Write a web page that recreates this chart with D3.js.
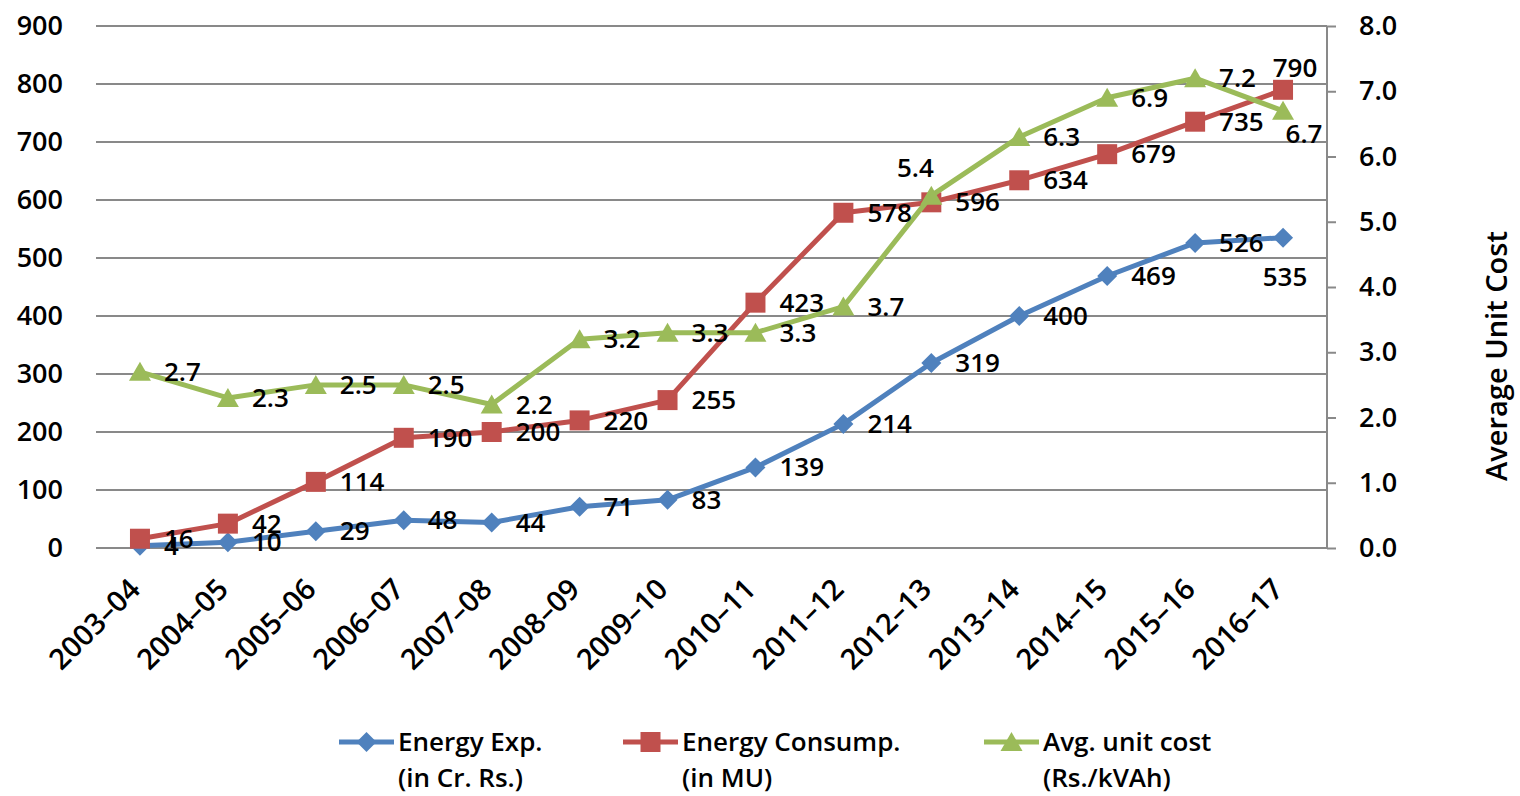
<!DOCTYPE html>
<html>
<head>
<meta charset="utf-8">
<script src="https://d3js.org/d3.v7.min.js"></script>
<style>
  html, body { margin: 0; padding: 0; background: #fff; }
  svg { display: block; font-family: "Open Sans", sans-serif; font-weight: 600; }
</style>
</head>
<body>
<svg id="chart" width="1520" height="796"></svg>
<script>
// Financial years
const years = ["2003–04","2004–05","2005–06","2006–07","2007–08","2008–09","2009–10",
               "2010–11","2011–12","2012–13","2013–14","2014–15","2015–16","2016–17"];

// Energy expenditure (in Cr. Rs.)
const energyExp = [4, 10, 29, 48, 44, 71, 83, 139, 214, 319, 400, 469, 526, 535];
// Energy consumption (in MU)
const energyConsump = [16, 42, 114, 190, 200, 220, 255, 423, 578, 596, 634, 679, 735, 790];
// Average unit cost (Rs./kVAh)
const avgUnitCost = [2.7, 2.3, 2.5, 2.5, 2.2, 3.2, 3.3, 3.3, 3.7, 5.4, 6.3, 6.9, 7.2, 6.7];

// Axis ticks
const leftTicks = [0, 100, 200, 300, 400, 500, 600, 700, 800, 900];
const rightTicks = [0, 1, 2, 3, 4, 5, 6, 7, 8];

// Data label placement for the few labels not sitting to the right of their point
const labelPlacement = {
  exp:     { 13: "below" },
  consump: { 13: "aboveRight" },
  cost:    { 9: "aboveLeft", 13: "belowRight" }
};

const svg = d3.select("#chart");
const plot = { left: 96, right: 1327, top: 26, bottom: 548 };

const x = d3.scalePoint().domain(years).range([plot.left, plot.right]).padding(0.5);
const yL = d3.scaleLinear().domain([0, 900]).range([plot.bottom, plot.top]);
const yR = d3.scaleLinear().domain([0, 8]).range([plot.bottom, plot.top]);

const gridColor = "#898989";
const font = "Open Sans";

// Horizontal gridlines
svg.append("g").selectAll("line").data(leftTicks).join("line")
  .attr("x1", plot.left).attr("x2", plot.right)
  .attr("y1", d => yL(d)).attr("y2", d => yL(d))
  .attr("stroke", gridColor).attr("stroke-width", 2);

// Left axis labels
const leftAxis = svg.append("g").attr("transform", `translate(${plot.left},0)`)
  .call(d3.axisLeft(yL).tickValues(leftTicks).tickSize(0).tickPadding(33).tickFormat(d3.format("d")));
leftAxis.select(".domain").remove();
leftAxis.selectAll("text").attr("font-size", 27).attr("fill", "#000")
  .attr("font-family", font).attr("dy", "0.32em");

// Right axis with outward ticks
const rightAxis = svg.append("g").attr("transform", `translate(${plot.right},0)`)
  .call(d3.axisRight(yR).tickValues(rightTicks).tickSize(9).tickPadding(23).tickFormat(d3.format(".1f")));
rightAxis.select(".domain").attr("stroke", gridColor).attr("stroke-width", 2)
  .attr("d", `M0,${plot.top}V${plot.bottom}`);
rightAxis.selectAll(".tick line").attr("stroke", gridColor).attr("stroke-width", 2);
rightAxis.selectAll("text").attr("font-size", 27).attr("fill", "#000")
  .attr("font-family", font).attr("dy", "0.32em");

// Right axis title
svg.append("text")
  .attr("transform", "translate(1497,356) rotate(-90)")
  .attr("text-anchor", "middle").attr("dy", "0.35em")
  .attr("font-size", 29).attr("fill", "#000")
  .text("Average Unit Cost");

// Category labels, rotated
svg.append("g").selectAll("text").data(years).join("text")
  .attr("transform", d => `translate(${x(d) + 2},${plot.bottom + 43}) rotate(-45)`)
  .attr("text-anchor", "end")
  .attr("font-size", 29).attr("fill", "#000")
  .text(d => d);

// Marker shapes
const markerPath = {
  diamond: "M0,-10L10,0L0,10L-10,0Z",
  square: "M-10,-10H10V10H-10Z",
  triangle: "M0,-10L11,9L-11,9Z"
};

const series = [
  { key: "exp", values: energyExp, y: yL, color: "#4F81BD", marker: "diamond", fmt: d3.format("d"),
    legend: ["Energy Exp.", "(in Cr. Rs.)"] },
  { key: "consump", values: energyConsump, y: yL, color: "#C0504D", marker: "square", fmt: d3.format("d"),
    legend: ["Energy Consump.", "(in MU)"] },
  { key: "cost", values: avgUnitCost, y: yR, color: "#9BBB59", marker: "triangle", fmt: d3.format(".1f"),
    legend: ["Avg. unit cost", "(Rs./kVAh)"] }
];

const line = (s) => d3.line().x((d, i) => x(years[i])).y(d => s.y(d));

// Lines and markers
series.forEach(s => {
  const g = svg.append("g");
  g.append("path").datum(s.values)
    .attr("d", line(s))
    .attr("fill", "none").attr("stroke", s.color).attr("stroke-width", 5)
    .attr("stroke-linejoin", "round");
  g.selectAll("path.m").data(s.values).join("path").attr("class", "m")
    .attr("transform", (d, i) => `translate(${x(years[i])},${s.y(d)})`)
    .attr("d", markerPath[s.marker])
    .attr("fill", s.color);
});

// Data labels
const placements = {
  right:      { anchor: "start",  dx: 24,  dy: 0 },
  below:      { anchor: "middle", dx: 2,   dy: 39 },
  aboveRight: { anchor: "middle", dx: 12,  dy: -22 },
  aboveLeft:  { anchor: "middle", dx: -16, dy: -28 },
  belowRight: { anchor: "middle", dx: 21,  dy: 23 }
};
series.forEach(s => {
  svg.append("g").selectAll("text").data(s.values).join("text")
    .each(function (d, i) {
      const p = placements[(labelPlacement[s.key] || {})[i] || "right"];
      d3.select(this)
        .attr("x", x(years[i]) + p.dx)
        .attr("y", s.y(d) + p.dy)
        .attr("text-anchor", p.anchor);
    })
    .attr("dy", "0.35em")
    .attr("font-size", 26).attr("fill", "#000")
    .text(d => s.fmt(d));
});

// Legend
const legendX = [339, 623, 984];
const legend = svg.append("g");
series.forEach((s, i) => {
  const g = legend.append("g").attr("transform", `translate(${legendX[i]},742)`);
  g.append("line").attr("x1", 0).attr("x2", 55).attr("y1", 0).attr("y2", 0)
    .attr("stroke", s.color).attr("stroke-width", 5);
  g.append("path").attr("transform", "translate(27.5,0)")
    .attr("d", markerPath[s.marker]).attr("fill", s.color);
  g.append("text").attr("x", 59).attr("y", 0).attr("dy", "0.35em")
    .attr("font-size", 26).attr("fill", "#000").text(s.legend[0]);
  g.append("text").attr("x", 59).attr("y", 36).attr("dy", "0.35em")
    .attr("font-size", 26).attr("fill", "#000").text(s.legend[1]);
});
</script>
</body>
</html>
